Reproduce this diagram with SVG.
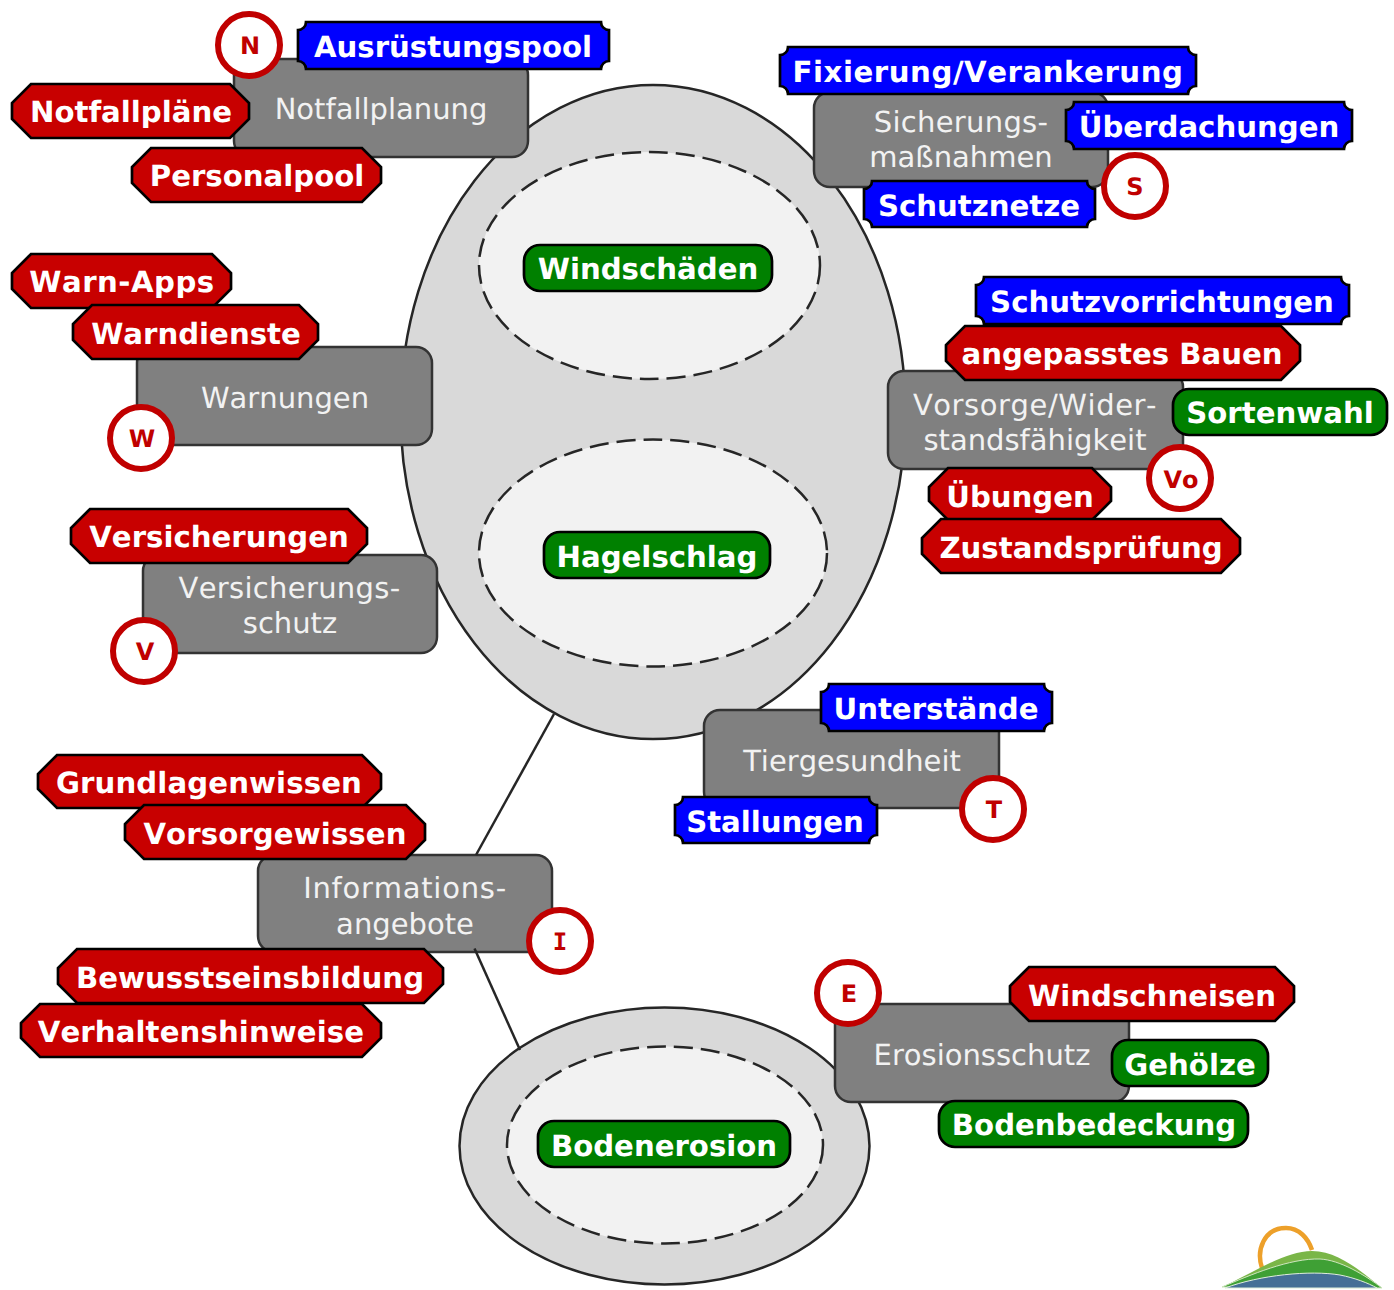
<svg xmlns="http://www.w3.org/2000/svg" width="1394" height="1290" viewBox="0 0 1394 1290">
<style>
text{font-family:"DejaVu Sans",Verdana,sans-serif;text-anchor:middle;text-rendering:geometricPrecision;font-kerning:none}
.oval{fill:#d9d9d9;stroke:#262626;stroke-width:2.5}
.inner{fill:#f2f2f2;stroke:#262626;stroke-width:2.5;stroke-dasharray:19 8}
.conn{fill:none;stroke:#262626;stroke-width:2.5}
.box{fill:#808080;stroke:#333;stroke-width:2.5}
.lbl{font-size:29px;fill:#f2f2f2}
.red{fill:#c80000;stroke:#000;stroke-width:2.7}
.blue{fill:#0000ff;stroke:#000;stroke-width:2.7}
.green{fill:#008000;stroke:#000;stroke-width:2.7}
.tag{font-size:29.2px;font-weight:bold;fill:#fff}
.mark{fill:#fff;stroke:#c00000;stroke-width:6}
.mk{font-size:24px;font-weight:bold;fill:#c00000}
</style>
<g id="scope">
<ellipse class="oval" cx="653" cy="412" rx="252.500" ry="327"/>
<ellipse class="inner" cx="649.500" cy="265.500" rx="170.500" ry="113.500"/>
<ellipse class="inner" cx="653" cy="553" rx="174" ry="113.500"/>
<ellipse class="oval" cx="664.500" cy="1146" rx="205" ry="138.500"/>
<ellipse class="inner" cx="665" cy="1145" rx="158" ry="98.500"/>
</g>
<g id="node-notfallplanung"><rect class="box" x="234" y="59" width="294" height="98" rx="16"/><text class="lbl" x="381" y="119">Notfallplanung</text></g>
<g id="node-sicherung"><rect class="box" x="814" y="92" width="294" height="95" rx="16"/><text class="lbl" x="961" y="132" letter-spacing="0.3">Sicherungs-</text><text class="lbl" x="961" y="167">maßnahmen</text></g>
<g id="node-warnungen"><rect class="box" x="137" y="347" width="295" height="98" rx="16"/><text class="lbl" x="285" y="408">Warnungen</text></g>
<g id="node-vorsorge"><rect class="box" x="888" y="371" width="295" height="98" rx="16"/><text class="lbl" x="1035" y="415" letter-spacing="0.57">Vorsorge/Wider-</text><text class="lbl" x="1035" y="450">standsfähigkeit</text></g>
<g id="node-versicherung"><rect class="box" x="143" y="555" width="294" height="98" rx="16"/><text class="lbl" x="289.500" y="598" letter-spacing="0.3">Versicherungs-</text><text class="lbl" x="290" y="633">schutz</text></g>
<g id="node-tier"><rect class="box" x="704" y="710" width="295" height="98" rx="16"/><text class="lbl" x="852" y="771">Tiergesundheit</text></g>
<g id="node-info"><rect class="box" x="258" y="855" width="294" height="97" rx="16"/><text class="lbl" x="405" y="898" letter-spacing="0.75">Informations-</text><text class="lbl" x="405" y="934">angebote</text></g>
<g id="node-erosion"><rect class="box" x="835" y="1004" width="294" height="98" rx="16"/><text class="lbl" x="982" y="1065">Erosionsschutz</text></g>
<g id="connectors">
<path class="conn" d="M554 714L476 855"/>
<path class="conn" d="M474.500 948.500L520 1050"/>
</g>

<g id="tag-notfallplaene"><polygon class="red" points="31,84 230,84 249,103 249,119 230,138 31,138 12,119 12,103"/><text class="tag" x="131" y="122">Notfallpläne</text></g>
<g id="tag-personalpool"><polygon class="red" points="151,148 362,148 381,167 381,183 362,202 151,202 132,183 132,167"/><text class="tag" x="257" y="186">Personalpool</text></g>
<g id="tag-warnapps"><polygon class="red" points="31,254 212,254 231,273 231,289 212,308 31,308 12,289 12,273"/><text class="tag" x="122" y="292" letter-spacing="0.5">Warn-Apps</text></g>
<g id="tag-warndienste"><polygon class="red" points="92,305 299,305 318,324 318,340 299,359 92,359 73,340 73,324"/><text class="tag" x="196" y="344">Warndienste</text></g>
<g id="tag-versicherungen"><polygon class="red" points="90,509 348,509 367,528 367,544 348,563 90,563 71,544 71,528"/><text class="tag" x="219" y="547">Versicherungen</text></g>
<g id="tag-grundlagen"><polygon class="red" points="57,755 362,755 381,774 381,789 362,808 57,808 38,789 38,774"/><text class="tag" x="209" y="793" letter-spacing="0.1">Grundlagenwissen</text></g>
<g id="tag-vorsorgewissen"><polygon class="red" points="144,805 406,805 425,824 425,840 406,859 144,859 125,840 125,824"/><text class="tag" x="275" y="844" letter-spacing="0.1">Vorsorgewissen</text></g>
<g id="tag-bewusstsein"><polygon class="red" points="77,949 424,949 443,968 443,984 424,1003 77,1003 58,984 58,968"/><text class="tag" x="250" y="988">Bewusstseinsbildung</text></g>
<g id="tag-verhalten"><polygon class="red" points="40,1004 362,1004 381,1023 381,1038 362,1057 40,1057 21,1038 21,1023"/><text class="tag" x="201" y="1042" letter-spacing="0.1">Verhaltenshinweise</text></g>
<g id="tag-ausruestung"><path class="blue" d="M306 22H601A8 8 0 0 0 609 30V61A8 8 0 0 0 601 69H306A8 8 0 0 0 298 61V30A8 8 0 0 0 306 22Z"/><text class="tag" x="453" y="57">Ausrüstungspool</text></g>
<g id="tag-fixierung"><path class="blue" d="M788 47H1188A8 8 0 0 0 1196 55V86A8 8 0 0 0 1188 94H788A8 8 0 0 0 780 86V55A8 8 0 0 0 788 47Z"/><text class="tag" x="988" y="82" letter-spacing="0.55">Fixierung/Verankerung</text></g>
<g id="tag-ueberdachung"><path class="blue" d="M1074 102H1344A8 8 0 0 0 1352 110V141A8 8 0 0 0 1344 149H1074A8 8 0 0 0 1066 141V110A8 8 0 0 0 1074 102Z"/><text class="tag" x="1209" y="137">Überdachungen</text></g>
<g id="tag-schutznetze"><path class="blue" d="M872 181H1087A8 8 0 0 0 1095 189V219A8 8 0 0 0 1087 227H872A8 8 0 0 0 864 219V189A8 8 0 0 0 872 181Z"/><text class="tag" x="979" y="216">Schutznetze</text></g>
<g id="tag-schutzvorrichtung"><path class="blue" d="M984 277H1341A8 8 0 0 0 1349 285V316A8 8 0 0 0 1341 324H984A8 8 0 0 0 976 316V285A8 8 0 0 0 984 277Z"/><text class="tag" x="1162" y="312">Schutzvorrichtungen</text></g>
<g id="tag-bauen"><polygon class="red" points="965,326 1281,326 1300,345 1300,361 1281,380 965,380 946,361 946,345"/><text class="tag" x="1122" y="364">angepasstes Bauen</text></g>
<g id="tag-sortenwahl"><rect class="green" x="1173" y="389" width="214" height="46" rx="16"/><text class="tag" x="1280" y="423">Sortenwahl</text></g>
<g id="tag-uebungen"><polygon class="red" points="948,468 1092,468 1111,487 1111,501 1092,520 948,520 929,501 929,487"/><text class="tag" x="1020" y="507">Übungen</text></g>
<g id="tag-zustand"><polygon class="red" points="941,519 1221,519 1240,538 1240,554 1221,573 941,573 922,554 922,538"/><text class="tag" x="1081" y="558">Zustandsprüfung</text></g>
<g id="tag-windschaeden"><rect class="green" x="524" y="245" width="248" height="46" rx="16"/><text class="tag" x="648" y="279">Windschäden</text></g>
<g id="tag-hagelschlag"><rect class="green" x="544" y="532" width="226" height="46" rx="16"/><text class="tag" x="657" y="567">Hagelschlag</text></g>
<g id="tag-bodenerosion"><rect class="green" x="538" y="1121" width="252" height="46" rx="16"/><text class="tag" x="664" y="1156">Bodenerosion</text></g>
<g id="tag-unterstaende"><path class="blue" d="M829 684H1044A8 8 0 0 0 1052 692V723A8 8 0 0 0 1044 731H829A8 8 0 0 0 821 723V692A8 8 0 0 0 829 684Z"/><text class="tag" x="936" y="719">Unterstände</text></g>
<g id="tag-stallungen"><path class="blue" d="M683 797H869A8 8 0 0 0 877 805V835A8 8 0 0 0 869 843H683A8 8 0 0 0 675 835V805A8 8 0 0 0 683 797Z"/><text class="tag" x="775" y="832">Stallungen</text></g>
<g id="tag-windschneisen"><polygon class="red" points="1029,967 1275,967 1294,986 1294,1002 1275,1021 1029,1021 1010,1002 1010,986"/><text class="tag" x="1152" y="1006">Windschneisen</text></g>
<g id="tag-gehoelze"><rect class="green" x="1112" y="1040" width="156" height="46" rx="16"/><text class="tag" x="1190" y="1075">Gehölze</text></g>
<g id="tag-bodenbedeckung"><rect class="green" x="939" y="1101" width="309" height="46" rx="16"/><text class="tag" x="1094" y="1135">Bodenbedeckung</text></g>

<g id="mark-n"><circle class="mark" cx="249" cy="45" r="31"/><text class="mk" x="250" y="54">N</text></g>
<g id="mark-s"><circle class="mark" cx="1135" cy="186" r="31"/><text class="mk" x="1135" y="195">S</text></g>
<g id="mark-w"><circle class="mark" cx="141" cy="438" r="31"/><text class="mk" x="142" y="447">W</text></g>
<g id="mark-v"><circle class="mark" cx="144" cy="651" r="31"/><text class="mk" x="145" y="660">V</text></g>
<g id="mark-vo"><circle class="mark" cx="1180" cy="478" r="31"/><text class="mk" x="1181" y="488">Vo</text></g>
<g id="mark-t"><circle class="mark" cx="993" cy="809" r="31"/><text class="mk" x="994" y="818">T</text></g>
<g id="mark-i"><circle class="mark" cx="560" cy="941" r="31"/><text class="mk" x="560" y="950" style="font-family:'DejaVu Sans Mono',monospace">I</text></g>
<g id="mark-e"><circle class="mark" cx="848" cy="993" r="31"/><text class="mk" x="849" y="1002">E</text></g>
<g id="logo">
<path d="M1262 1268C1256 1250 1264 1228 1286 1228C1299 1228 1308 1238 1312 1250" fill="none" stroke="#eda02a" stroke-width="4.500"/>
<path d="M1222 1287C1255 1272 1285 1251 1312 1251C1340 1251 1365 1275 1382 1288Z" fill="#7ab648"/>
<path d="M1222 1287C1250 1275 1290 1258 1320 1259C1340 1260 1365 1275 1382 1288Z" fill="#3fa035" stroke="#cfe6c0" stroke-width="1"/>
<path d="M1225 1288C1260 1275 1310 1270 1340 1275C1355 1278 1368 1283 1377 1288Z" fill="#456f96" stroke="#dfeeda" stroke-width="1"/>
</g>
</svg>
